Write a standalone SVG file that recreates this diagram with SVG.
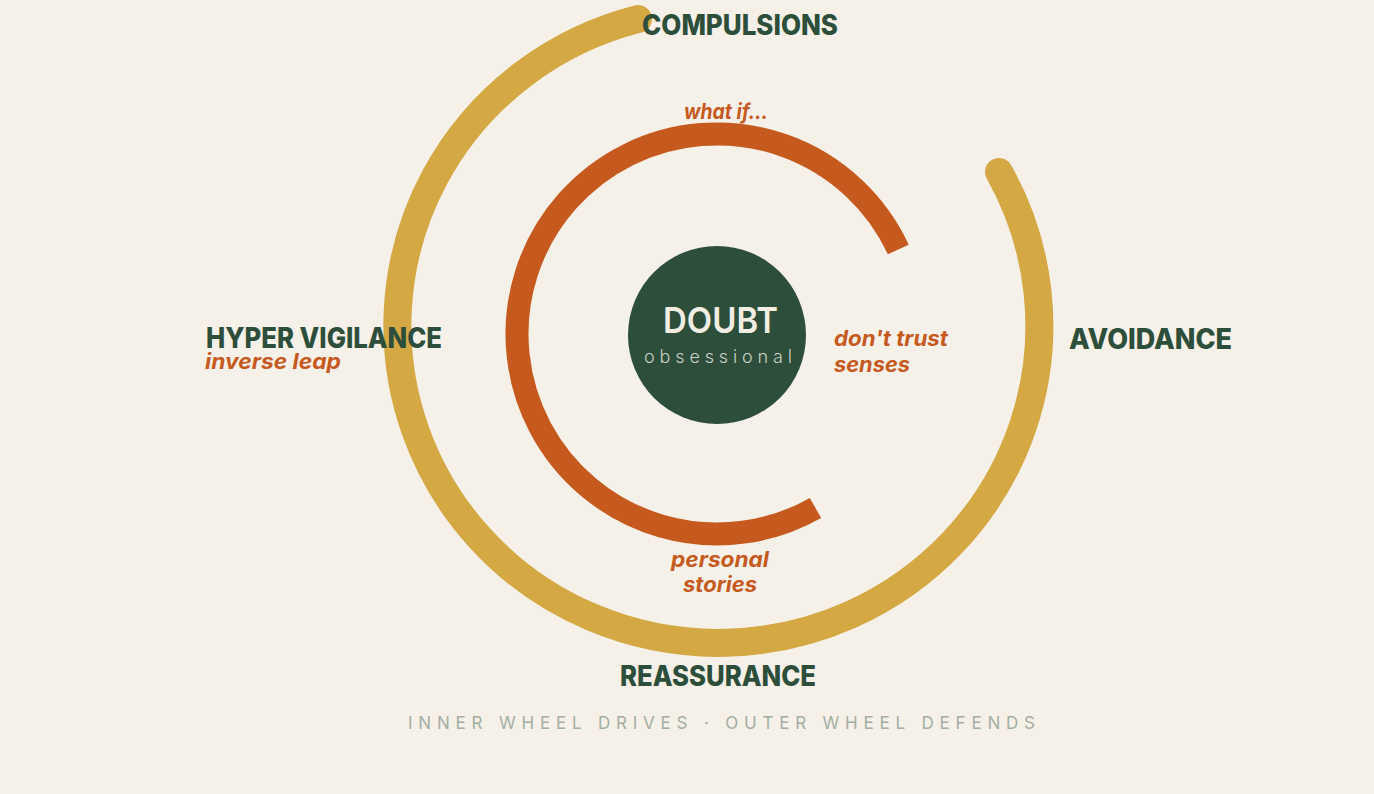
<svg xmlns="http://www.w3.org/2000/svg" width="1374" height="794" viewBox="0 0 1374 794">
  <style>
    .lbl { font-family: Inter, "DejaVu Sans", sans-serif; font-weight: 800; fill: #2D4E3B; font-size: 28px; }
    .sub { font-family: Inter, "DejaVu Sans", sans-serif; font-weight: 700; font-style: italic; fill: #C65A1E; font-size: 21px; }
    .cap { font-family: Inter, "DejaVu Sans", sans-serif; font-weight: 400; fill: #A3AFA4; font-size: 17px; }
  </style>
  <rect width="1374" height="794" fill="#F5F0E8"/>
  <g id="rings">
    <path id="outer-wheel" d="M 999 172 A 321 317 0 1 1 638 19" fill="none" stroke="#D4A843" stroke-width="28" stroke-linecap="round"/>
    <path id="inner-wheel" d="M 898.3 249.5 A 200 200 0 1 0 815.5 508" fill="none" stroke="#C65A1E" stroke-width="23" stroke-linecap="butt"/>
  </g>
  <g id="doubt">
    <circle cx="717" cy="335" r="89" fill="#2D4E3B"/>
    <text x="663" y="333" textLength="115" lengthAdjust="spacingAndGlyphs" style="font-family: Inter, 'DejaVu Sans', sans-serif; font-weight: 600; font-size: 36px; fill: #F2EDE3;">DOUBT</text>
    <text x="644" y="363" textLength="148" lengthAdjust="spacing" style="font-family: Inter, 'DejaVu Sans', sans-serif; font-weight: 300; font-size: 18px; fill: #C9D0C5;">obsessional</text>
  </g>
  <g id="compulsions">
    <text class="lbl" x="642" y="35" textLength="196" lengthAdjust="spacingAndGlyphs">COMPULSIONS</text>
  </g>
  <g id="what-if">
    <text class="sub" x="684" y="119" textLength="84" lengthAdjust="spacingAndGlyphs">what if…</text>
  </g>
  <g id="hyper-vigilance">
    <text class="lbl" x="206" y="348" textLength="236" lengthAdjust="spacingAndGlyphs">HYPER VIGILANCE</text>
    <text class="sub" x="205" y="369" textLength="136" lengthAdjust="spacingAndGlyphs">inverse leap</text>
  </g>
  <g id="avoidance">
    <text class="lbl" x="1069" y="349" textLength="163" lengthAdjust="spacingAndGlyphs">AVOIDANCE</text>
  </g>
  <g id="dont-trust-senses">
    <text class="sub" x="834" y="346" textLength="114" lengthAdjust="spacingAndGlyphs">don't trust</text>
    <text class="sub" x="834" y="372" textLength="76" lengthAdjust="spacingAndGlyphs">senses</text>
  </g>
  <g id="personal-stories">
    <text class="sub" x="671" y="567" textLength="98" lengthAdjust="spacingAndGlyphs">personal</text>
    <text class="sub" x="683" y="592" textLength="74" lengthAdjust="spacingAndGlyphs">stories</text>
  </g>
  <g id="reassurance">
    <text class="lbl" x="620" y="686" textLength="196" lengthAdjust="spacingAndGlyphs">REASSURANCE</text>
  </g>
  <g id="caption">
    <text class="cap" x="408" y="729" textLength="627" lengthAdjust="spacing">INNER WHEEL DRIVES · OUTER WHEEL DEFENDS</text>
  </g>
</svg>
